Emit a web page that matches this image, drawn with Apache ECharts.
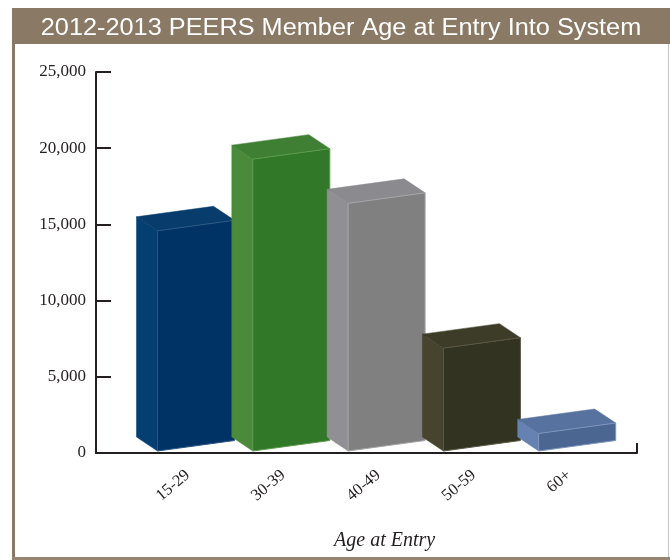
<!DOCTYPE html>
<html><head><meta charset="utf-8">
<script src="https://cdn.jsdelivr.net/npm/echarts@6/dist/echarts.min.js"></script>
<style>html,body{margin:0;padding:0;background:#fff}#c{width:670px;height:560px}</style>
</head><body><div id="c"></div>
<script>
const titleText = '2012-2013 PEERS Member Age at Entry Into System';
const axisTitle = 'Age at Entry';
const categories = ['15-29', '30-39', '40-49', '50-59', '60+'];
const members = [14450, 19150, 16250, 6750, 1150];
const yMin = 0, yMax = 25000, yStep = 5000;
const frontColors = ['#003365', '#317829', '#808081', '#333322', '#4a6691'];
const sideColors  = ['#053f71', '#4b8a3b', '#909094', '#46442f', '#6682b2'];
const topColors   = ['#073c6c', '#3f7f34', '#8b8b8f', '#3d3c29', '#57729f'];
const edgeColors  = ['#2a5684', '#5c9a4c', '#a5a5a8', '#5a5842', '#7d95bd'];

const chart = echarts.init(document.getElementById('c'), null, {renderer: 'canvas'});
const TAUPE = '#8a7964';
const INK = '#231f20';
const SERIF = '"Liberation Serif", "Times New Roman", serif';

function renderBar(params, api) {
  const i = api.value(0);
  const v = api.value(1);
  const top = api.coord([i, v]);
  const base = api.coord([i, 0]);
  const band = api.size([1, 0])[0];
  const w = band * 0.808;
  const cx = top[0] + 2;
  const xl = cx - w / 2, xr = cx + w / 2;
  const h = base[1] - top[1];
  const b0 = base[1] - 2;
  const s = 10.5;           // perspective shear of the front face
  const dx = -21, dy = -14; // depth offset
  const FLB = [xl, b0], FLT = [xl, b0 - h], FRB = [xr, b0 - s], FRT = [xr, b0 - s - h];
  const BLB = [xl + dx, b0 + dy], BLT = [xl + dx, b0 - h + dy], BRT = [xr + dx, b0 - s - h + dy];
  const idx = params.dataIndex;
  return {
    type: 'group',
    children: [
      {type: 'polygon', shape: {points: [FLB, FLT, BLT, BLB]},
       style: {fill: sideColors[idx], stroke: sideColors[idx], lineWidth: 0.5}},
      {type: 'polygon', shape: {points: [FLT, FRT, BRT, BLT]},
       style: {fill: topColors[idx], stroke: topColors[idx], lineWidth: 0.5}},
      {type: 'polygon', shape: {points: [FLB, FLT, FRT, FRB]},
       style: {fill: frontColors[idx], stroke: edgeColors[idx], lineWidth: 1}}
    ]
  };
}

const option = {
  animation: false,
  backgroundColor: '#ffffff',
  graphic: [
    {type: 'rect', left: 12, top: 8, shape: {width: 658, height: 36}, style: {fill: TAUPE}, z: 0},
    {type: 'rect', left: 12, top: 44, shape: {width: 3, height: 516}, style: {fill: TAUPE}, z: 0},
    {type: 'rect', left: 12, top: 557, shape: {width: 658, height: 3}, style: {fill: '#958571'}, z: 0},
    {type: 'rect', left: 668, top: 44, shape: {width: 1, height: 513}, style: {fill: '#c4c4c4'}, z: 0},
    {type: 'text', x: 341, y: 28.5, scaleX: 1.1, style: {text: titleText, fill: '#ffffff',
      font: '23px "Liberation Sans", Arial, sans-serif', textAlign: 'center', textVerticalAlign: 'middle'}, z: 1}
  ],
  grid: [
    {left: 96, right: 33, top: 72, bottom: 107},
    {left: 146.35, right: 47.15, top: 72, bottom: 107}
  ],
  xAxis: [
    {type: 'value', gridIndex: 0, min: 0, max: 1, interval: 1,
     axisLine: {show: true, lineStyle: {color: INK, width: 2}},
     axisTick: {show: true, inside: true, length: 10, lineStyle: {color: INK, width: 2}},
     axisLabel: {show: false}, splitLine: {show: false}},
    {type: 'category', gridIndex: 1, data: categories,
     axisLine: {show: false}, axisTick: {show: false}, splitLine: {show: false},
     axisLabel: {rotate: 40, margin: 15, color: INK, fontFamily: SERIF,
       fontSize: 16.5, padding: [0, 8, 0, 0], interval: 0},
     name: axisTitle, nameLocation: 'middle', nameGap: 78,
     nameTextStyle: {color: INK, fontFamily: SERIF, fontStyle: 'italic', fontSize: 20}}
  ],
  yAxis: [
    {type: 'value', gridIndex: 0, min: yMin, max: yMax, interval: yStep,
     axisLine: {show: true, lineStyle: {color: INK, width: 2}},
     axisTick: {show: true, inside: true, length: 15, lineStyle: {color: INK, width: 2}},
     splitLine: {show: false},
     axisLabel: {margin: 10, color: INK, fontFamily: SERIF, fontSize: 17,
       formatter: function (val) { return val.toLocaleString('en-US'); }}},
    {type: 'value', gridIndex: 1, min: yMin, max: yMax, interval: yStep, show: false}
  ],
  series: [
    {type: 'custom', xAxisIndex: 1, yAxisIndex: 1, clip: false,
     data: categories.map(function (c, i) { return [i, members[i]]; }),
     renderItem: renderBar, z: 5}
  ]
};
chart.setOption(option);
</script>
</body></html>
